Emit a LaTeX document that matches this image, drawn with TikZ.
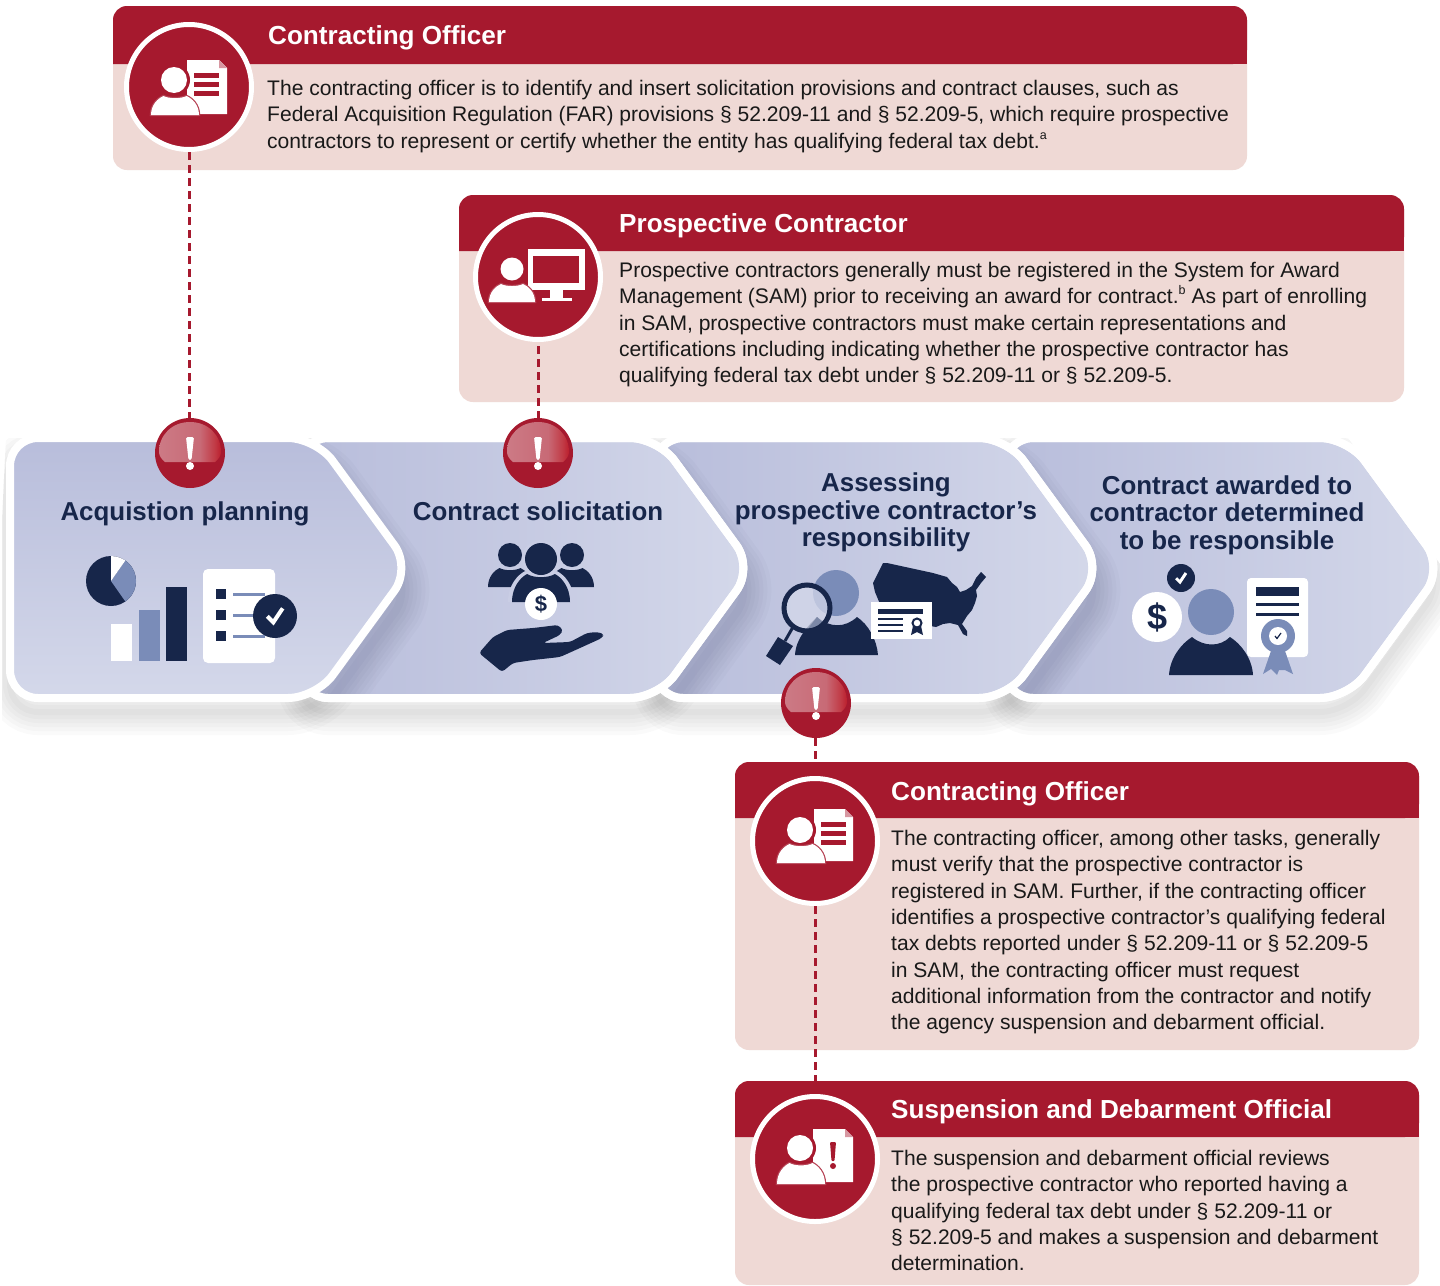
\documentclass[tikz,border=0pt]{standalone}
\usepackage{fontspec}
\setmainfont{Liberation Sans}
\definecolor{gaored}{HTML}{A6192E}
\definecolor{gaopink}{HTML}{EFD9D5}
\definecolor{gaonavy}{HTML}{17264A}
\definecolor{gaoblue}{HTML}{7A8CB8}
\definecolor{chevdark}{HTML}{B8BDDB}
\definecolor{chevlight}{HTML}{D4D8EA}
\definecolor{glossa}{HTML}{CC7A85}
\definecolor{glossb}{HTML}{C86A76}
\definecolor{glossc}{HTML}{C13A45}
\definecolor{glossd}{HTML}{BB1F2E}
\pgfdeclarehorizontalshading{glossball}{100bp}{color(0bp)=(glossa); color(25bp)=(glossa); color(58bp)=(glossb); color(70bp)=(glossc); color(75bp)=(glossd); color(100bp)=(glossd)}
\tikzset{
  x=1pt,y=-1pt,
  bodytext/.style={anchor=north west,inner sep=0pt,align=left,text=black!90,font=\fontsize{21.06}{26.35}\selectfont},
  paneltitle/.style={anchor=base west,inner sep=0pt,text=white,font=\fontsize{26.1}{32}\selectfont\bfseries},
  chevtext/.style={inner sep=0pt,align=center,text=gaonavy,font=\fontsize{25.9}{27.7}\selectfont\bfseries},
  roundel/.style={circle,fill=gaored,draw=white,line width=5pt,minimum size=125pt,inner sep=0pt},
  alertball/.style={circle,fill=gaored,minimum size=70pt,inner sep=0pt,outer sep=0pt},
  dashline/.style={gaored,line width=3pt,dash pattern=on 8pt off 5pt},
  chevron/.style={draw=white,line width=8pt,line join=round},
}
\newcommand\supmark[1]{\raisebox{.42em}{\fontsize{12.5}{12.5}\selectfont #1}}
\newcommand\panelbox[6]{% x0 y0 x1 yh y1 r
  \fill[gaopink,rounded corners=14pt] (#1,#2) rectangle (#3,#5);
  \fill[gaored,rounded corners=14pt] (#1,#4) -- (#1,#2) -- (#3,#2) -- (#3,#4) [sharp corners] -- cycle;
  \fill[gaored] (#1,#4-16) rectangle (#3,#4);
}
\newcommand\chevpath[2]{[rounded corners=28pt] (#1,438) -- (#2+316,438) -- (#2+411,568) -- (#2+316,698) -- (#1,698) -- cycle}
\newcommand\softshadow[2]{%
  \foreach \w in {6,14,22,30,38,46}{\draw[black,opacity=.02,line width=\w pt,yshift=-14pt] \chevpath{#1}{#2};}
}
\newcommand\castshadow[2]{%
  \foreach \w in {8,16,24,32,40,48,56}{\draw[gaonavy,opacity=.022,line width=\w pt,yshift=-22pt] \chevpath{#1}{#2};}
}
\newcommand\bust[5]{% cx bottom halfwidth height colour
  \fill[#5,shift={(#1,#2)},xscale=#3,yscale=#4] (-1,0) .. controls (-1,-.55) and (-.7,-.88) .. (-.48,-1) .. controls (-.25,-.85) and (.25,-.85) .. (.48,-1) .. controls (.7,-.88) and (1,-.55) .. (1,0) -- cycle;
}
\newcommand\bustring[4]{% cx bottom halfwidth height
  \draw[gaored!82!white,line width=2.4pt,shift={(#1,#2)},xscale=#3,yscale=#4] (-1,0) .. controls (-1,-.55) and (-.7,-.88) .. (-.48,-1) .. controls (-.25,-.85) and (.25,-.85) .. (.48,-1) .. controls (.7,-.88) and (1,-.55) .. (1,0) -- cycle;
}
\newcommand\checkm[4]{% cx cy s lw
  \draw[white,line width=#4pt,shift={(#1,#2)},scale=#3] (-.55,.02) -- (-.12,.45) -- (.55,-.55);
}
\newcommand\alerticon[2]{%
  \begin{scope}[shift={(#1,#2)}]
    \shade[shading=glossball] (-25,9) .. controls (-29,6) and (-31,2) .. (-31,-1) .. controls (-31,-18) and (-18,-31) .. (0,-31) .. controls (18,-31) and (31,-18) .. (31,-1) .. controls (31,2) and (29,6) .. (25,9) -- cycle;
    \fill[white,rounded corners=1.5pt] (-4,-16) -- (4,-16) -- (1.5,7) -- (-1.5,7) -- cycle;
    \fill[white] (0,13) circle (4);
  \end{scope}
}
\begin{document}
\begin{tikzpicture}
\useasboundingbox (0,0) rectangle (1440,1285);
\fill[white] (0,0) rectangle (1440,1285);

% shadows beneath the chevrons
\begin{scope}
  \clip (6,438) -- (1348,438) -- (1443,568) -- (1440,745) -- (2,745) -- (2,520) -- cycle;
  \softshadow{10}{0}
  \softshadow{300}{342}
  \softshadow{655}{691}
  \softshadow{1005}{1032}
\end{scope}

% chevrons, last one first
\path[chevron,left color=chevdark,right color=chevlight] \chevpath{1005}{1032};
\begin{scope}
  \clip \chevpath{1005}{1032};
  \castshadow{655}{691}
\end{scope}
\path[draw=white,line width=8pt] \chevpath{1005}{1032};
\path[chevron,left color=chevdark,right color=chevlight] \chevpath{655}{691};
\begin{scope}
  \clip \chevpath{655}{691};
  \castshadow{300}{342}
\end{scope}
\path[draw=white,line width=8pt] \chevpath{655}{691};
\path[chevron,left color=chevdark,right color=chevlight] \chevpath{300}{342};
\begin{scope}
  \clip \chevpath{300}{342};
  \castshadow{10}{0}
\end{scope}
\path[draw=white,line width=8pt] \chevpath{300}{342};
\path[chevron,top color=chevdark,bottom color=chevlight] \chevpath{10}{0};

% chevron headings
\node[chevtext] (h1) at (185,513.5) {Acquistion planning};
\node[chevtext] (h2) at (538,511) {Contract solicitation};
\node[chevtext] (h3) at (886,512.5) {Assessing\\prospective contractor’s\\responsibility};
\node[chevtext] (h4) at (1227,515) {Contract awarded to\\contractor determined\\to be responsible};

% icon 1: pie, bars, checklist
\fill[gaonavy] (111,581) circle (25);
\begin{scope}
  \clip (111,581) circle (25);
  \fill[gaoblue] (111,581) -- (151,524) -- (191,581) -- (151,638) -- cycle;
  \fill[white] (111,581) -- (111,521) -- (151,524) -- cycle;
\end{scope}
\fill[white] (111,624) rectangle (132,661);
\fill[gaoblue] (139,610) rectangle (160,661);
\fill[gaonavy] (166,587) rectangle (187,661);
\fill[white,rounded corners=5pt] (203,569) rectangle (275,663);
\foreach \yy in {589,610,631}{
  \fill[gaonavy] (216,\yy) rectangle (226,\yy+10);
  \fill[gaoblue] (233,\yy+3.5) rectangle (265,\yy+6.5);
}
\fill[gaonavy] (275,616) circle (22);
\checkm{275}{616}{14}{4}

% icon 2: group, coin, hand
\fill[gaonavy] (510,555) circle (12);
\fill[gaonavy] (572,555) circle (12);
\bust{510}{587}{22}{19}{gaonavy}
\bust{572}{587}{22}{19}{gaonavy}
\fill[chevlight!60!chevdark] (541,559) circle (19);
\bust{541}{602}{33}{31}{chevlight!60!chevdark}
\bust{541}{602}{29}{28}{gaonavy}
\fill[gaonavy] (541,559) circle (16);
\fill[white] (541,604) circle (16);
\node[inner sep=0pt,text=gaonavy,font=\fontsize{22}{22}\selectfont\bfseries] (coin) at (541,604) {\$};
\fill[gaonavy,rounded corners=3pt] (479,653) -- (502,672) -- (513,663) -- (533,660) -- (560,657) -- (580,648) -- (602,638) -- (604,634) -- (597,632) -- (587,633) -- (570,642) -- (543,643) -- (560,635) -- (563,630) -- (558,625) -- (533,628) -- (507,630) -- (493,637) -- cycle;

% icon 3: magnifier, person, map, card
\fill[gaoblue] (836,593) circle (23);
\fill[gaonavy] (795,655) .. controls (796,638) and (808,626) .. (817,617) .. controls (830,628) and (845,628) .. (857,617) .. controls (868,624) and (877,640) .. (878,655) -- cycle;
\fill[chevlight,fill opacity=.75] (807,608) circle (22);
\begin{scope}
  \clip (807,608) circle (22);
  \fill[gaoblue!70!gray] (807,630) -- (817,617) -- (826,625) -- (826,640) -- cycle;
\end{scope}
\draw[gaonavy,line width=5pt] (807,608) circle (23);
\draw[gaonavy,line width=3pt] (793,627) -- (785,641);
\fill[gaonavy] (766,656) -- (778,637) -- (793,646) -- (780,665) -- cycle;
\fill[gaonavy] (883,563) -- (887,563) -- (910,568) -- (933,573) -- (947,577) -- (952,583) -- (957,587) -- (960,592) -- (966,590) -- (972,586) -- (976,578) -- (981,572) -- (986,577) -- (981,583) -- (976,590) -- (977,596) -- (975,603) -- (972,610) -- (967,616) -- (962,624) -- (967,631) -- (967,636) -- (963,634) -- (958,625) -- (950,623) -- (943,624) -- (936,627) -- (925,625) -- (900,612) -- (880,604) -- (875,592) -- (873,583) -- (878,573) -- cycle;
\fill[white] (871,602) rectangle (932,639);
\fill[gaonavy] (878,609) rectangle (923,613.5);
\foreach \yy in {618,624,630}{\fill[gaonavy] (878,\yy) rectangle (903,\yy+2.2);}
\fill[gaonavy] (913,626) -- (911,635) -- (917,632) -- (923,635) -- (921,626) -- cycle;
\draw[gaonavy,line width=2pt,fill=white] (917,623) circle (4.5);

% icon 4: check, dollar, person, certificate
\fill[gaonavy] (1181,578) circle (14);
\checkm{1181}{578}{9}{3}
\fill[white] (1157,617) circle (25);
\node[inner sep=0pt,text=gaonavy,font=\fontsize{36}{36}\selectfont\bfseries] (dollar) at (1157,617) {\$};
\fill[white,rounded corners=4pt] (1247,578) rectangle (1308,657);
\fill[gaonavy] (1256,587) rectangle (1299,596);
\fill[gaonavy] (1256,603) rectangle (1299,605.5);
\fill[gaonavy] (1256,613) rectangle (1299,615.5);
\fill[gaoblue] (1272,648) -- (1263,674) -- (1271,669) -- (1277,675) -- (1279,670) -- (1285,670) -- (1293,674) -- (1284,648) -- cycle;
\fill[gaoblue] (1278,636) circle (17);
\fill[white] (1278,636) circle (9);
\draw[gaonavy,line width=1.2pt] (1275,636) -- (1277,638.5) -- (1281,633);
\fill[gaoblue] (1211,612) circle (23);
\fill[gaonavy] (1169,675) .. controls (1170,658) and (1181,644) .. (1192,637) .. controls (1204,647) and (1220,647) .. (1230,637) .. controls (1241,644) and (1252,658) .. (1253,675) -- cycle;

% panels
\panelbox{113}{6}{1247}{64}{170}{14}
\panelbox{459}{195}{1404}{251}{402}{14}
\panelbox{735}{762}{1419}{818}{1050}{14}
\panelbox{735}{1081}{1419}{1137}{1285}{14}

\node[paneltitle] (t1) at (268,44) {Contracting Officer};
\node[bodytext] (b1) at (267,80) {The contracting officer is to identify and insert solicitation provisions and contract clauses, such as\\Federal Acquisition Regulation (FAR) provisions § 52.209-11 and § 52.209-5, which require prospective\\contractors to represent or certify whether the entity has qualifying federal tax debt.\supmark{a}};
\node[paneltitle] (t2) at (619,232) {Prospective Contractor};
\node[bodytext] (b2) at (619,262) {Prospective contractors generally must be registered in the System for Award\\Management (SAM) prior to receiving an award for contract.\supmark{b} As part of enrolling\\in SAM, prospective contractors must make certain representations and\\certifications including indicating whether the prospective contractor has\\qualifying federal tax debt under § 52.209-11 or § 52.209-5.};
\node[paneltitle] (t3) at (891,800) {Contracting Officer};
\node[bodytext] (b3) at (891,830) {The contracting officer, among other tasks, generally\\must verify that the prospective contractor is\\registered in SAM. Further, if the contracting officer\\identifies a prospective contractor’s qualifying federal\\tax debts reported under § 52.209-11 or § 52.209-5\\in SAM, the contracting officer must request\\additional information from the contractor and notify\\the agency suspension and debarment official.};
\node[paneltitle] (t4) at (891,1118) {Suspension and Debarment Official};
\node[bodytext] (b4) at (891,1150) {The suspension and debarment official reviews\\the prospective contractor who reported having a\\qualifying federal tax debt under § 52.209-11 or\\§ 52.209-5 and makes a suspension and debarment\\determination.};

% roundels
\node[roundel] (r1) at (189,87) {};
\node[roundel] (r2) at (538,277) {};
\node[roundel] (r3) at (815,841) {};
\node[roundel] (r4) at (815,1159) {};

% alert balls
\node[alertball] (a1) at (190,453) {};
\node[alertball] (a2) at (538,453) {};
\node[alertball] (a3) at (816,703) {};
\alerticon{190}{453}
\alerticon{538}{453}
\alerticon{816}{703}

% connectors
\draw[dashline] (r1) -- (r1|-a1.north);
\draw[dashline,shorten <=4pt] (r2) -- (r2|-a2.north);
\draw[dashline] (a3.south-|r3) -- (r3.north);
\draw[dashline] (r3.south) -- (r4.north);

% roundel icon: officer and document
\fill[white] (187,60) -- (219,60) -- (227,68) -- (227,114) -- (187,114) -- cycle;
\fill[gaored!45!white] (219,60) -- (227,68) -- (219,68) -- cycle;
\foreach \yy in {73,82,91}{\fill[gaored] (194,\yy) rectangle (219,\yy+5);}
\fill[gaored] (174,80) circle (16);
\bustring{175}{115}{24}{19}
\fill[white] (174,80) circle (13);
\bust{175}{115}{24}{19}{white}

\fill[white] (814,809) -- (845,809) -- (853,817) -- (853,861) -- (814,861) -- cycle;
\fill[gaored!45!white] (845,809) -- (853,817) -- (845,817) -- cycle;
\foreach \yy in {822,831,840}{\fill[gaored] (821,\yy) rectangle (846,\yy+5);}
\fill[gaored] (800,830) circle (16);
\bustring{801}{863}{24}{19}
\fill[white] (800,830) circle (13);
\bust{801}{863}{24}{19}{white}

% roundel icon: contractor and monitor
\fill[white] (528,249) rectangle (585,290);
\fill[gaored] (533,256) rectangle (579,283);
\fill[white] (550,290) rectangle (563,298);
\fill[white] (542,298) rectangle (572,301);
\fill[gaored] (512,269) circle (14);
\bustring{512}{302}{23}{18}
\fill[white] (512,269) circle (11.5);
\bust{512}{302}{23}{18}{white}

% roundel icon: official and notice
\fill[white] (813,1129) -- (845,1129) -- (853,1137) -- (853,1182) -- (813,1182) -- cycle;
\fill[gaored!45!white] (845,1129) -- (853,1137) -- (845,1137) -- cycle;
\fill[gaored,rounded corners=1pt] (830,1142) -- (836,1142) -- (834.5,1161) -- (831.5,1161) -- cycle;
\fill[gaored] (833,1166) circle (3);
\fill[gaored] (800,1148) circle (16);
\bustring{801}{1184}{24}{21}
\fill[white] (800,1148) circle (13);
\bust{801}{1184}{24}{21}{white}
\end{tikzpicture}
\end{document}
